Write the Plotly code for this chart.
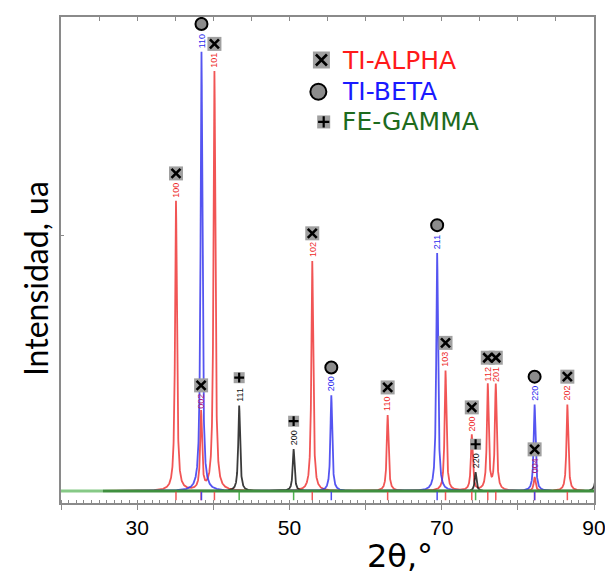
import numpy as np
import plotly.graph_objects as go

# ---------------- data ----------------
alpha_pos = [35.1, 38.4, 40.15, 53.0, 62.9, 70.5, 73.95, 76.05, 77.1, 82.2, 86.5]
alpha_int = [56.6, 15.2, 81.9, 44.9, 14.8, 23.5, 10.9, 20.6, 20.6, 2.7, 16.9]
alpha_hkl = ["100", "002", "101", "102", "110", "103", "200", "112", "201", "004", "202"]

beta_pos = [38.45, 55.5, 69.4, 82.2]
beta_int = [85.8, 18.7, 46.5, 16.9]
beta_hkl = ["110", "200", "211", "220"]

gamma_pos = [43.4, 50.55, 74.45, 90.4]
gamma_int = [16.7, 8.2, 3.7, 8.0]
gamma_hkl = ["111", "200", "220", ""]

x_range = [20, 90]
y_range = [-2.33, 92.6]
x_tick_vals = [20, 30, 40, 50, 60, 70, 80, 90]
x_tick_text = ["", "30", "", "50", "", "70", "", "90"]
baseline_start = 25.5

legend_names = ["TI-ALPHA", "TI-BETA", "FE-GAMMA"]

# ---------------- styling ----------------
RED = "rgba(238,55,55,0.85)"
BLUE = "rgba(55,55,238,0.85)"
BLACK = "rgba(25,25,25,0.85)"
GREEN_DARK = "#3f8f3f"
GREEN_LIGHT = "#86c986"
AXIS_GRAY = "#8a8a8a"
BOX_GRAY = "#a0a0a0"

PLOT_H = 488.0
unit_per_px = (y_range[1] - y_range[0]) / PLOT_H
marker_off = 28 * unit_per_px
tickmark_y = -5 * unit_per_px

hwhm = 0.14
grid = np.linspace(baseline_start, 91, 6551)


def profile(pos, amp):
    y = np.zeros_like(grid)
    for p, a in zip(pos, amp):
        y += a / (1.0 + ((grid - p) / hwhm) ** 2)
    return y


fig = go.Figure()

for pos, amp, col in [(alpha_pos, alpha_int, RED), (beta_pos, beta_int, BLUE),
                      (gamma_pos, gamma_int, BLACK)]:
    fig.add_trace(go.Scatter(x=grid, y=profile(pos, amp), mode="lines",
                             line=dict(color=col, width=1.8), hoverinfo="skip"))

# baseline
fig.add_trace(go.Scatter(x=[x_range[0], baseline_start], y=[0, 0], mode="lines",
                         line=dict(color=GREEN_LIGHT, width=3)))
fig.add_trace(go.Scatter(x=[baseline_start, x_range[1]], y=[0, 0], mode="lines",
                         line=dict(color=GREEN_DARK, width=3)))

# reference tick marks under baseline
for pos, col in [(alpha_pos, "rgba(240,70,70,0.9)"), (beta_pos, "rgba(60,60,240,0.9)"),
                 (gamma_pos, "rgba(60,170,60,0.9)")]:
    inside = [p for p in pos if p <= 90]
    fig.add_trace(go.Scatter(x=inside, y=[tickmark_y] * len(inside),
                             mode="markers",
                             marker=dict(symbol="line-ns", size=6,
                                         line=dict(color=col, width=1.5))))


def add_alpha_marker(xs, ys, box=14, xs_size=9):
    fig.add_trace(go.Scatter(x=xs, y=ys, mode="markers",
                             marker=dict(symbol="square", size=box, color=BOX_GRAY,
                                         line=dict(width=0))))
    fig.add_trace(go.Scatter(x=xs, y=ys, mode="markers",
                             marker=dict(symbol="x-thin", size=xs_size,
                                         line=dict(color="black", width=2.6))))


def add_beta_marker(xs, ys, size=12):
    fig.add_trace(go.Scatter(x=xs, y=ys, mode="markers",
                             marker=dict(symbol="circle", size=size, color="#8c8c8c",
                                         line=dict(color="black", width=2))))


def add_gamma_marker(xs, ys, box=11, cs=7):
    fig.add_trace(go.Scatter(x=xs, y=ys, mode="markers",
                             marker=dict(symbol="square", size=box, color=BOX_GRAY,
                                         line=dict(width=0))))
    fig.add_trace(go.Scatter(x=xs, y=ys, mode="markers",
                             marker=dict(symbol="cross-thin", size=cs,
                                         line=dict(color="black", width=2.2))))


add_alpha_marker(alpha_pos, [v + marker_off for v in alpha_int])
add_beta_marker(beta_pos, [v + marker_off for v in beta_int])
gp = [p for p, h in zip(gamma_pos, gamma_hkl) if h]
gi = [v for v, h in zip(gamma_int, gamma_hkl) if h]
add_gamma_marker(gp, [v + marker_off for v in gi])

annotations = []
mix = "#b0207a"
for p, v, t in zip(alpha_pos, alpha_int, alpha_hkl):
    c = mix if t in ("002", "004") else "#ee2a2a"
    annotations.append(dict(x=p, y=v, text=t, textangle=-90, showarrow=False,
                            yanchor="bottom", yshift=2,
                            font=dict(family="Liberation Sans", size=9, color=c)))
for p, v, t in zip(beta_pos, beta_int, beta_hkl):
    annotations.append(dict(x=p, y=v, text=t, textangle=-90, showarrow=False,
                            yanchor="bottom", yshift=2,
                            font=dict(family="Liberation Sans", size=9, color="#2a2aee")))
for p, v, t in zip(gamma_pos, gamma_int, gamma_hkl):
    if t:
        annotations.append(dict(x=p, y=v, text=t, textangle=-90, showarrow=False,
                                yanchor="bottom", yshift=2,
                                font=dict(family="Liberation Sans", size=9, color="#111111")))

# legend (manual)
leg_marker_x = [54.2, 53.8, 54.5]
leg_y = [84.2, 78.0, 72.1]
leg_text_x = 56.65
leg_colors = ["#ff1a1a", "#1a1aff", "#1d6b1d"]
add_alpha_marker([leg_marker_x[0]], [leg_y[0]], box=17, xs_size=11)
add_beta_marker([leg_marker_x[1]], [leg_y[1]], size=16)
add_gamma_marker([leg_marker_x[2]], [leg_y[2]], box=13, cs=8)
for name, yy, col in zip(legend_names, leg_y, leg_colors):
    annotations.append(dict(x=leg_text_x, y=yy, text=name, showarrow=False,
                            xanchor="left", yanchor="middle",
                            font=dict(family="DejaVu Sans", size=25, color=col)))

# axis titles
annotations.append(dict(xref="paper", yref="paper", x=-0.0466, y=0.461,
                        text="Intensidad, ua", textangle=-90, showarrow=False,
                        xanchor="center", yanchor="middle",
                        font=dict(family="Lato", size=32, color="black")))
annotations.append(dict(xref="paper", yref="paper", x=0.636, y=-0.109,
                        text="2θ,°", showarrow=False,
                        xanchor="center", yanchor="middle",
                        font=dict(family="DejaVu Sans", size=32, color="black")))

# dummy trace for top axis
fig.add_trace(go.Scatter(x=[x_range[0]], y=[0], xaxis="x2", mode="markers",
                         marker=dict(opacity=0), hoverinfo="skip"))

# page body has an 8px default margin: shrink the figure so plot area lands right
fig.update_layout(
    width=605, height=570,
    margin=dict(l=53, r=16, t=7, b=75),
    paper_bgcolor="white", plot_bgcolor="white",
    showlegend=False,
    annotations=annotations,
    xaxis=dict(range=x_range, showgrid=False, zeroline=False,
               showline=True, linecolor=AXIS_GRAY, linewidth=1.5, mirror=True,
               tickvals=x_tick_vals, ticktext=x_tick_text,
               ticks="outside", ticklen=5, tickcolor=AXIS_GRAY, tickwidth=1.2,
               minor=dict(dtick=1, ticks="inside", ticklen=3, tickcolor=AXIS_GRAY, tickwidth=1),
               tickfont=dict(family="Liberation Sans", size=21, color="black")),
    xaxis2=dict(range=x_range, overlaying="x", side="top", showgrid=False,
                zeroline=False, showline=False, showticklabels=False,
                dtick=5, tick0=0, ticks="inside", ticklen=4, tickcolor=AXIS_GRAY),
    yaxis=dict(range=y_range, showgrid=False, zeroline=False,
               showline=True, linecolor=AXIS_GRAY, linewidth=1.5, mirror=True,
               tickvals=[50], ticks="inside", ticklen=3, tickcolor=AXIS_GRAY,
               showticklabels=False),
)

fig.write_html("out.html")
